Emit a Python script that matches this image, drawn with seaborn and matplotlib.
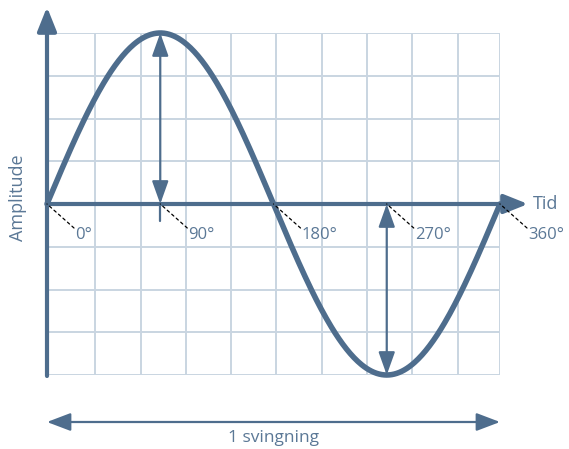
import numpy as np
import pandas as pd
import matplotlib
matplotlib.use("Agg")
import matplotlib.pyplot as plt
import seaborn as sns

# Data: one full period of a sine wave, phase in degrees
amplitude = 1.0
phase_deg = np.arange(0, 361, 1)
phase_ticks = [0, 90, 180, 270, 360]
phase_labels = ["0°", "90°", "180°", "270°", "360°"]
x_label = "Tid"
y_label = "Amplitude"
period_label = "1 svingning"

wave = pd.DataFrame({"fase": phase_deg,
                     "utslag": amplitude * np.sin(np.radians(phase_deg))})

BLUE = "#4e6d8d"
TEXT = "#5b7896"
GRID = "#c9d5e1"

sns.set_style("white")
plt.rcParams["font.family"] = ["Open Sans", "DejaVu Sans"]

W, H = 569, 449
fig = plt.figure(figsize=(W / 100, H / 100), dpi=100)
ax = fig.add_axes([47 / W, (H - 375) / H, 453 / W, 342 / H])
ax.set_xlim(0, 360)
ax.set_ylim(-amplitude, amplitude)

px_x = 360 / 453  # degrees per pixel
px_y = amplitude / 171  # amplitude per pixel

# background grid: columns about 45 px wide, 8 rows
col = 45.3 * px_x
grid_x = [0] + [3 * px_x + k * col for k in range(1, 10)] + [360]
ax.set_xticks(grid_x)
ax.set_yticks(np.linspace(-amplitude, amplitude, 9))
ax.grid(True, color=GRID, lw=1.4)
ax.tick_params(length=0, labelbottom=False, labelleft=False)
for s in ax.spines.values():
    s.set_visible(False)
ax.set_axisbelow(True)

# the wave
sns.lineplot(data=wave, x="fase", y="utslag", ax=ax, color=BLUE, lw=4.0,
             sort=False)
ax.lines[-1].set_clip_on(False)
ax.set_xlabel("")
ax.set_ylabel("")


def arrow(p0, p1, style, lw, scale=10, hl=1.4, hw=0.55):
    ax.annotate("", xy=p1, xytext=p0, annotation_clip=False,
                arrowprops=dict(arrowstyle=f"{style},head_length={hl},head_width={hw}",
                                color=BLUE, lw=lw, shrinkA=0, shrinkB=0,
                                mutation_scale=scale))


# axes with arrow heads
arrow((0, -amplitude - 1 * px_y), (0, 197 * px_y), "-|>", 3.0, hl=1.45, hw=0.58)
arrow((0, 0), (481 * px_x, 0), "-|>", 3.0, hl=1.45, hw=0.58)

# amplitude arrows at the peak and trough
arrow((90, 0), (90, amplitude), "<|-|>", 1.6, hl=1.4, hw=0.5)
arrow((270, 0), (270, -amplitude), "<|-|>", 1.6, hl=1.4, hw=0.5)
ax.plot([90, 90], [0, -17 * px_y], color=BLUE, lw=1.6, clip_on=False)

# period arrow
y_period = -218 * px_y
arrow((0, y_period), (360, y_period), "<|-|>", 1.6, hl=1.45, hw=0.55)
ax.text(180, y_period - 16 * px_y, period_label, ha="center", va="center",
        color=TEXT, fontsize=12.5)

# phase labels with dashed leaders
for deg, lab in zip(phase_ticks, phase_labels):
    ax.annotate("", xy=(deg, 0), xytext=(27, -24), textcoords="offset pixels",
                annotation_clip=False,
                arrowprops=dict(arrowstyle="-", color="black", lw=0.9,
                                ls=(0, (2.2, 2.6)), shrinkA=0, shrinkB=0))
    ax.annotate(lab, xy=(deg, 0), xytext=(28, -31), textcoords="offset pixels",
                ha="left", va="center", color=TEXT, fontsize=12,
                annotation_clip=False)

fig.text(533 / W, 1 - 204 / H, x_label, ha="left", va="center",
         color=TEXT, fontsize=13)
fig.text(18 / W, 1 - 198 / H, y_label, ha="center", va="center",
         rotation=90, color=TEXT, fontsize=13)

fig.savefig("out.png", dpi=100)
